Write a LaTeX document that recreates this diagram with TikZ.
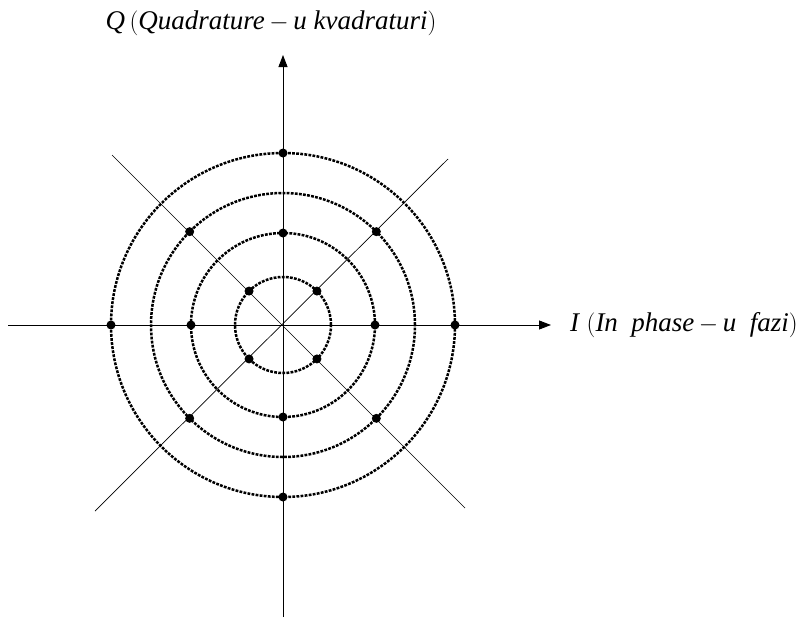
\documentclass[tikz,border=0pt]{standalone}
\usepackage{fontspec}
\setmainfont{Liberation Serif}
\usepackage{tikz}
\usetikzlibrary{arrows.meta, positioning, calc}
\tikzset{
  axis/.style    = {line width=0.9pt, -{Triangle[length=12pt, width=9pt]}},
  diag/.style    = {line width=0.7pt},
  ring/.style    = {line width=2.5pt, dash pattern=on 2.8pt off 1.3pt},
  dot/.style     = {circle, fill=black, inner sep=0pt, minimum size=9pt},
  axlabel/.style = {font=\fontsize{27}{31}\selectfont\itshape, inner sep=0pt},
}

\begin{document}
\begin{tikzpicture}[x=1pt, y=-1pt]
  \useasboundingbox (0,0) rectangle (812,627);

  %─── Origin and axis ends ──────────────────────────────────────────────────
  \coordinate (o)  at (283,325);
  \coordinate (iL) at (8,325);
  \coordinate (iR) at (551,325);
  \coordinate (qB) at (283,617);
  \coordinate (qT) at (283,55);

  %─── Diagonal ends ─────────────────────────────────────────────────────────
  \coordinate (dUL) at (112,155);
  \coordinate (dLR) at (465,508);
  \coordinate (dUR) at (448,159);
  \coordinate (dLL) at (95,511);

  %─── Rings ─────────────────────────────────────────────────────────────────
  \draw[ring] (o) circle[radius=48pt];
  \draw[ring] (o) circle[radius=92pt];
  \draw[ring] (o) circle[radius=132pt];
  \draw[ring] (o) circle[radius=172pt];

  %─── Axes ──────────────────────────────────────────────────────────────────
  \draw[diag] (dUL) -- (dLR);
  \draw[diag] (dLL) -- (dUR);
  \draw[axis] (iL) -- (iR);
  \draw[axis] (qB) -- (qT);

  %─── Symbol points ─────────────────────────────────────────────────────────
  % ring 1, diagonals
  \node[dot] (p1a) at ($(o)+(45:48)$)   {};
  \node[dot] (p1b) at ($(o)+(135:48)$)  {};
  \node[dot] (p1c) at ($(o)+(225:48)$)  {};
  \node[dot] (p1d) at ($(o)+(315:48)$)  {};
  % ring 2, axes
  \node[dot] (p2a) at ($(o)+(0:92)$)    {};
  \node[dot] (p2b) at ($(o)+(90:92)$)   {};
  \node[dot] (p2c) at ($(o)+(180:92)$)  {};
  \node[dot] (p2d) at ($(o)+(270:92)$)  {};
  % ring 3, diagonals
  \node[dot] (p3a) at ($(o)+(45:132)$)  {};
  \node[dot] (p3b) at ($(o)+(135:132)$) {};
  \node[dot] (p3c) at ($(o)+(225:132)$) {};
  \node[dot] (p3d) at ($(o)+(315:132)$) {};
  % ring 4, axes
  \node[dot] (p4a) at ($(o)+(0:172)$)   {};
  \node[dot] (p4b) at ($(o)+(90:172)$)  {};
  \node[dot] (p4c) at ($(o)+(180:172)$) {};
  \node[dot] (p4d) at ($(o)+(270:172)$) {};

  %─── Axis labels ───────────────────────────────────────────────────────────
  \node[axlabel] (qlab) at (271,23)
        {Q\,$\Bigl($Quadrature\,$-$\,u kvadraturi$\Bigr)$};
  \node[axlabel, anchor=west] (ilab) at (570,325)
        {I\;$\Bigl($In\ \ phase\,$-$\,u\ \ fazi$\Bigr)$};

\end{tikzpicture}
\end{document}
